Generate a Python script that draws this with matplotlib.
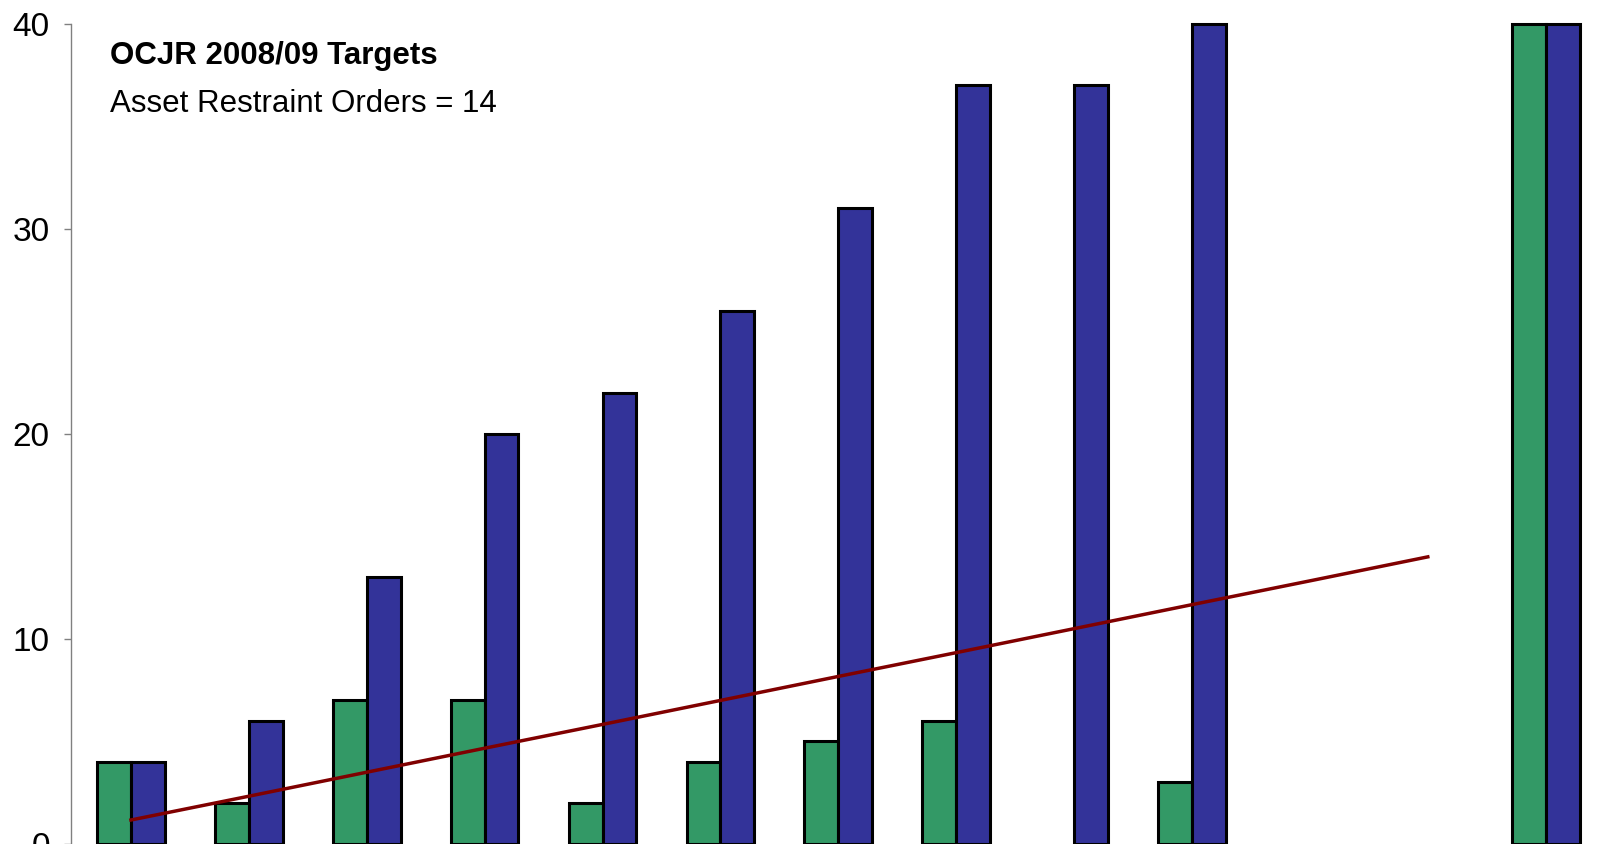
import numpy as np
import matplotlib
matplotlib.use("Agg")
import matplotlib.pyplot as plt

plt.rcParams["font.family"] = ["Liberation Sans Narrow", "Liberation Sans", "DejaVu Sans"]

# meses (13o grupo = total do ano, 11o sem dados)
bar_groups = [0, 1, 2, 3, 4, 5, 6, 7, 8, 9, 12]
monthly = [4, 2, 7, 7, 2, 4, 5, 6, 0, 3, 40]
cumulative = [4, 6, 13, 20, 22, 26, 31, 37, 37, 40, 40]
target_x = list(range(12))
target = [1.17, 2.33, 3.5, 4.67, 5.83, 7.0, 8.17, 9.33, 10.5, 11.67, 12.83, 14.0]
y_ticks = [0, 10, 20, 30, 40]

green = "#339966"
blue = "#333399"
red = "#800000"

fig = plt.figure(figsize=(16.07, 8.44), dpi=100)
ax = fig.add_axes([70.7 / 1607, 0.0, 1 - 70.7 / 1607, 1 - 23.6 / 844])

w = 0.287
x = np.array(bar_groups)
b1 = ax.bar(x - w / 2, monthly, width=w, color=green, edgecolor="black",
            linewidth=2.2, clip_on=False, zorder=2)
b2 = ax.bar(x + w / 2, cumulative, width=w, color=blue, edgecolor="black",
            linewidth=2.2, clip_on=False, zorder=2)
for p in list(b1) + list(b2):
    if p.get_height() == 0:
        p.set_visible(False)

ax.plot(target_x, target, color=red, linewidth=2.5, zorder=3)

ax.set_xlim(-0.511, 12.52)
ax.set_ylim(0, 40)
ax.set_yticks(y_ticks)
ax.set_xticks([])
for s in ["top", "right", "bottom"]:
    ax.spines[s].set_visible(False)
ax.spines["left"].set_color("#808080")
ax.spines["left"].set_linewidth(1.0)
ax.tick_params(axis="y", direction="out", length=5, width=1.0, color="#808080",
               labelsize=24, pad=10)

fig.text(110 / 1607, 1 - 64 / 844, "OCJR 2008/09 Targets", fontsize=22.5,
         fontweight="bold", va="baseline")
fig.text(110 / 1607, 1 - 112 / 844, "Asset Restraint Orders = 14", fontsize=22.5,
         va="baseline")

fig.savefig("out.png", dpi=100)
